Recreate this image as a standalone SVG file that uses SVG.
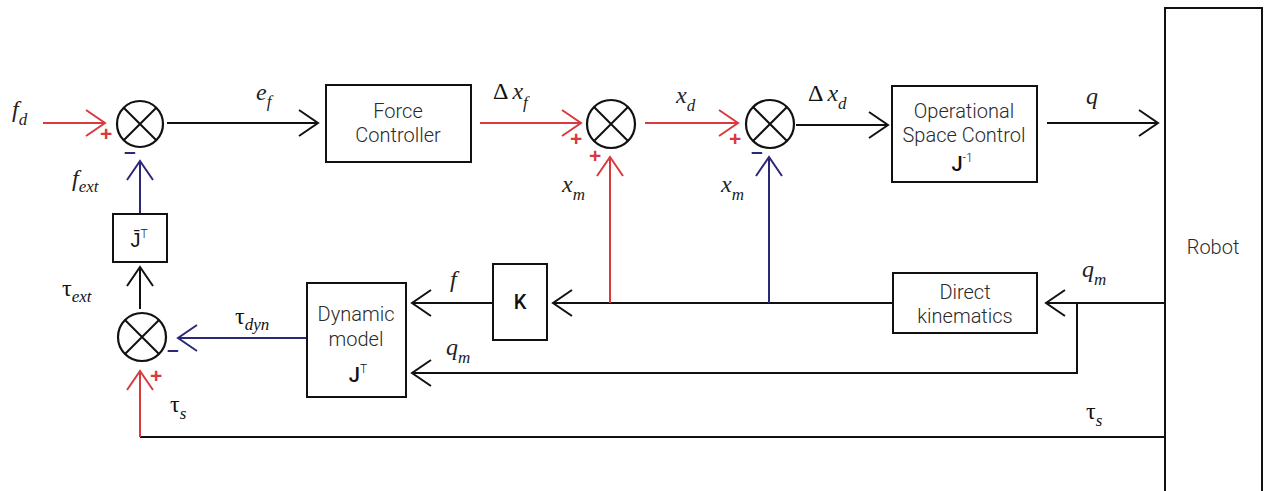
<svg xmlns="http://www.w3.org/2000/svg" width="1265" height="491" viewBox="0 0 1265 491">
<style>
.box{fill:#fff;stroke:#111;stroke-width:2}
.blk{fill:none;stroke:#111;stroke-width:2}
.red{fill:none;stroke:#d83a3e;stroke-width:2}
.blu{fill:none;stroke:#2c2878;stroke-width:2}
.sum{fill:#fff;stroke:#111;stroke-width:2.2}
.t{font-family:Roboto,"Liberation Sans",sans-serif;font-weight:300;font-size:20px;fill:#2a2a2a;text-anchor:middle}
.tj{font-family:Roboto,"Liberation Sans",sans-serif;font-weight:500;font-size:20px;fill:#111;text-anchor:middle}
.m{font-family:"Liberation Serif","DejaVu Serif",serif;font-style:italic;font-size:24px;fill:#222}
.g{font-family:"Liberation Serif","DejaVu Serif",serif;font-size:24px;fill:#111}
.sub{font-size:17px}
.sr{font-family:"Liberation Sans",sans-serif;font-weight:bold;font-size:21px;fill:#d83a3e}
.sb{font-family:"Liberation Sans",sans-serif;font-weight:bold;font-size:21px;fill:#2c2878}
</style>
<defs>
<marker id="ak" markerUnits="userSpaceOnUse" markerWidth="30" markerHeight="30" refX="0" refY="0" viewBox="-22 -15 26 30" orient="auto"><path d="M-19,-13 L0,0 L-19,13" fill="none" stroke="#111" stroke-width="2"/></marker>
<marker id="ar" markerUnits="userSpaceOnUse" markerWidth="30" markerHeight="30" refX="0" refY="0" viewBox="-22 -15 26 30" orient="auto"><path d="M-19,-13 L0,0 L-19,13" fill="none" stroke="#d83a3e" stroke-width="2"/></marker>
<marker id="ab" markerUnits="userSpaceOnUse" markerWidth="30" markerHeight="30" refX="0" refY="0" viewBox="-22 -15 26 30" orient="auto"><path d="M-19,-13 L0,0 L-19,13" fill="none" stroke="#2c2878" stroke-width="2"/></marker>
</defs>
<rect width="1265" height="491" fill="#fff"/>

<g id="connectors">
<path class="red" d="M43,123 H105" marker-end="url(#ar)"/>
<path class="blk" d="M167,123 H318" marker-end="url(#ak)"/>
<path class="red" d="M480,123 H581" marker-end="url(#ar)"/>
<path class="red" d="M645,123 H738" marker-end="url(#ar)"/>
<path class="blk" d="M796,125 H888" marker-end="url(#ak)"/>
<path class="blk" d="M1047,123 H1158" marker-end="url(#ak)"/>
<path class="blu" d="M140,214 V161" marker-end="url(#ab)"/>
<path class="blk" d="M140,309 V267" marker-end="url(#ak)"/>
<path class="blu" d="M307,338 H178" marker-end="url(#ab)"/>
<path class="blk" d="M1165,437 H140"/>
<path class="red" d="M140,437 V371" marker-end="url(#ar)"/>
<path class="blk" d="M493,303 H412" marker-end="url(#ak)"/>
<path class="blk" d="M893,303 H553" marker-end="url(#ak)"/>
<path class="red" d="M610,303 V157" marker-end="url(#ar)"/>
<path class="blu" d="M769,303 V157" marker-end="url(#ab)"/>
<path class="blk" d="M1165,303 H1046" marker-end="url(#ak)"/>
<path class="blk" d="M1077,303 V373 H412" marker-end="url(#ak)"/>
</g>

<g id="sum1">
<circle class="sum" cx="140" cy="124" r="23"/>
<path class="blk" d="M123.7,107.7 L156.3,140.3 M156.3,107.7 L123.7,140.3"/>
<text class="sr" x="100" y="141">+</text>
<text class="sb" x="124" y="158">–</text>
</g>
<g id="sum2">
<circle class="sum" cx="142" cy="337" r="24"/>
<path class="blk" d="M125,320 L159,354 M159,320 L125,354"/>
<text class="sb" x="167" y="356">–</text>
<text class="sr" x="150" y="383">+</text>
</g>
<g id="sum3">
<circle class="sum" cx="611" cy="124" r="24"/>
<path class="blk" d="M594,107 L628,141 M628,107 L594,141"/>
<text class="sr" x="570" y="146">+</text>
<text class="sr" x="589" y="163">+</text>
</g>
<g id="sum4">
<circle class="sum" cx="770" cy="124" r="24"/>
<path class="blk" d="M753,107 L787,141 M787,107 L753,141"/>
<text class="sr" x="729" y="146">+</text>
<text class="sb" x="751" y="158">–</text>
</g>

<g id="forceController">
<rect class="box" x="326" y="85" width="145" height="77"/>
<text class="t" x="398" y="118">Force</text>
<text class="t" x="398" y="142">Controller</text>
</g>
<g id="osc">
<rect class="box" x="892" y="86" width="145" height="96"/>
<text class="t" x="964" y="118">Operational</text>
<text class="t" x="964" y="142">Space Control</text>
<text class="tj" x="962" y="171">J<tspan font-size="12" font-weight="300" dy="-9">-1</tspan></text>
</g>
<g id="jbarT">
<rect class="box" x="113" y="214" width="54" height="48"/>
<text class="tj" x="139" y="247" font-weight="400">J̄<tspan font-size="12" font-weight="300" dy="-9">T</tspan></text>
</g>
<g id="dynamicModel">
<rect class="box" x="307" y="283" width="99" height="114"/>
<text class="t" x="356" y="321">Dynamic</text>
<text class="t" x="356" y="346">model</text>
<text class="tj" x="358" y="382">J<tspan font-size="12" font-weight="300" dy="-9">T</tspan></text>
</g>
<g id="K">
<rect class="box" x="493" y="264" width="54" height="76"/>
<text class="tj" x="520" y="309">K</text>
</g>
<g id="directKinematics">
<rect class="box" x="893" y="273" width="144" height="60"/>
<text class="t" x="965" y="299">Direct</text>
<text class="t" x="965" y="323">kinematics</text>
</g>
<g id="robot">
<rect class="box" x="1165" y="8" width="97" height="490"/>
<text class="t" x="1213" y="254">Robot</text>
</g>

<g id="labels">
<text class="m" x="12" y="117">f<tspan class="sub" dy="8">d</tspan></text>
<text class="m" x="256" y="100">e<tspan class="sub" dy="7">f</tspan></text>
<text class="m" x="72" y="186">f<tspan class="sub" dy="6" font-size="20">ext</tspan></text>
<text class="g" x="62" y="296">τ<tspan class="sub" font-style="italic" dy="6" font-size="20">ext</tspan></text>
<text class="g" x="235" y="324">τ<tspan class="sub" font-style="italic" dy="6" font-size="20">dyn</tspan></text>
<text class="g" x="170" y="412">τ<tspan class="sub" font-style="italic" dy="7" font-size="19">s</tspan></text>
<text class="g" x="1086" y="419">τ<tspan class="sub" font-style="italic" dy="7" font-size="19">s</tspan></text>
<text class="g" x="493" y="99">Δ<tspan class="m" dx="4">x</tspan><tspan class="m sub" dy="9">f</tspan></text>
<text class="m" x="676" y="103">x<tspan class="sub" dy="8">d</tspan></text>
<text class="g" x="808" y="101">Δ<tspan class="m" dx="4">x</tspan><tspan class="m sub" dy="8">d</tspan></text>
<text class="m" x="562" y="192">x<tspan class="sub" dy="8">m</tspan></text>
<text class="m" x="721" y="192">x<tspan class="sub" dy="8">m</tspan></text>
<text class="m" x="1086" y="104">q</text>
<text class="m" x="446" y="355">q<tspan class="sub" dy="8">m</tspan></text>
<text class="m" x="1082" y="277">q<tspan class="sub" dy="8">m</tspan></text>
<text class="m" x="450" y="287">f</text>
</g>
</svg>
